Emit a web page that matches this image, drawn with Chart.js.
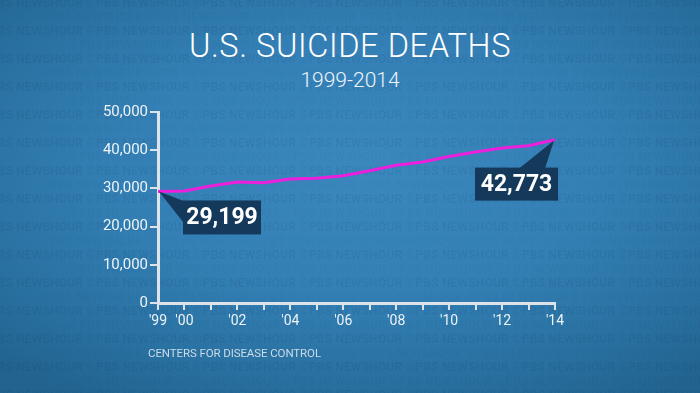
<!DOCTYPE html>
<html>
<head>
<meta charset="utf-8">
<script src="https://cdn.jsdelivr.net/npm/chart.js@4"></script>
<style>
  html, body { margin: 0; padding: 0; }
  #stage {
    position: relative; width: 700px; height: 393px; overflow: hidden;
    background: radial-gradient(ellipse 75% 70% at 52% 42%, #3b88be 0%, #3480b6 45%, #28709f 80%, #22638f 100%);
    font-family: Roboto, "DejaVu Sans", sans-serif;
  }
  #wm { position: absolute; left: -20px; top: -4px; width: 760px; height: 400px;
        font: bold 12px Roboto, sans-serif; letter-spacing: 0.2px; color: rgba(10, 40, 80, 0.09);
        white-space: nowrap; line-height: 14px; pointer-events: none; }
  #wm div:nth-child(even) { color: rgba(10, 40, 80, 0.05); }
  #title { position: absolute; left: 0; width: 700px; top: 27px; text-align: center;
           color: #fff; font-size: 32.5px; font-weight: 300; letter-spacing: 0.6px; }
  #sub { position: absolute; left: 0; width: 700px; top: 68px; text-align: center;
         color: #eef4f9; font-size: 21px; font-weight: 300; }
  #source { position: absolute; left: 148px; top: 346px; color: #cbdbe8;
            font-size: 11.5px; letter-spacing: -0.1px; }
  canvas { position: absolute; left: 0; top: 0; }
</style>
</head>
<body>
<div id="stage">
  <div id="wm"></div>
  <div id="title">U.S. SUICIDE DEATHS</div>
  <div id="sub">1999-2014</div>
  <canvas id="chart" width="700" height="393"></canvas>
  <div id="source">CENTERS FOR DISEASE CONTROL</div>
</div>
<script>
// data (CDC)
const years = [1999, 2000, 2001, 2002, 2003, 2004, 2005, 2006, 2007, 2008, 2009, 2010, 2011, 2012, 2013, 2014]
const deaths = [29199, 29350, 30622, 31655, 31484, 32439, 32637, 33300, 34598, 36035, 36909, 38364, 39518, 40600, 41149, 42773]
const xTickLabels = { 1999: "'99", 2000: "'00", 2002: "'02", 2004: "'04", 2006: "'06", 2008: "'08", 2010: "'10", 2012: "'12", 2014: "'14" }
const yTicks = [0, 10000, 20000, 30000, 40000, 50000]

// faint watermark rows
const wm = document.getElementById("wm")
for (let i = 0; i < 29; i++) {
  const row = document.createElement("div")
  row.style.paddingLeft = (i % 2 ? 60 : 0) + (i % 4 === 3 ? 30 : 0) + "px"
  row.textContent = "©PBS NEWSHOUR  ".repeat(8)
  wm.appendChild(row)
}

const axisColor = "#dde3e9"
const fmt = v => v.toLocaleString("en-US")

const callouts = {
  id: "callouts",
  afterDatasetsDraw(chart) {
    const { ctx, scales: { x, y } } = chart
    const first = { px: x.getPixelForValue(years[0]), py: y.getPixelForValue(deaths[0]) }
    const last = { px: x.getPixelForValue(years[years.length - 1]), py: y.getPixelForValue(deaths[deaths.length - 1]) }
    ctx.save()
    ctx.fillStyle = "#15395a"
    // first value box
    let bx = first.px + 25, by = first.py + 9
    ctx.beginPath()
    ctx.moveTo(first.px + 1, first.py)
    ctx.lineTo(bx + 2, by + 1)
    ctx.lineTo(bx + 2, by + 24)
    ctx.closePath(); ctx.fill()
    ctx.fillRect(bx, by, 78, 34)
    ctx.fillStyle = "#fff"
    ctx.font = "bold 23px Roboto, sans-serif"
    ctx.textAlign = "center"; ctx.textBaseline = "middle"
    ctx.fillText(fmt(deaths[0]), bx + 39, by + 18)
    // last value box
    ctx.fillStyle = "#15395a"
    bx = last.px - 80; by = last.py + 28
    ctx.beginPath()
    ctx.moveTo(last.px - 1, last.py + 1)
    ctx.lineTo(bx + 44, by + 1)
    ctx.lineTo(bx + 70, by + 1)
    ctx.closePath(); ctx.fill()
    ctx.fillRect(bx, by, 83, 33)
    ctx.fillStyle = "#fff"
    ctx.fillText(fmt(deaths[deaths.length - 1]), bx + 41.5, by + 17.5)
    ctx.restore()
  }
}

new Chart(document.getElementById("chart"), {
  type: "line",
  data: {
    labels: years,
    datasets: [{
      data: years.map((yr, i) => ({ x: yr, y: deaths[i] })),
      borderColor: "#ec1fdc", borderWidth: 3, pointRadius: 0, tension: 0
    }]
  },
  options: {
    responsive: false, animation: false,
    layout: { padding: { left: 100, top: 112, right: 145, bottom: 60 } },
    plugins: { legend: { display: false }, tooltip: { enabled: false } },
    scales: {
      x: {
        type: "linear", min: 1999, max: 2014,
        afterFit: s => { s.height = 30 },
        afterBuildTicks: s => { s.ticks = years.map(v => ({ value: v })) },
        border: { color: axisColor, width: 3 },
        grid: { drawOnChartArea: false, drawTicks: true, tickLength: 7, color: axisColor, lineWidth: 2 },
        ticks: {
          color: "#eef3f8", font: { family: "Roboto", size: 14 }, padding: 3, maxRotation: 0, autoSkip: false,
          callback: v => xTickLabels[v] || ""
        }
      },
      y: {
        min: 0, max: 50000,
        afterFit: s => { s.width = 58 },
        afterBuildTicks: s => { s.ticks = yTicks.map(v => ({ value: v })) },
        border: { color: axisColor, width: 3 },
        grid: { drawOnChartArea: false, drawTicks: true, tickLength: 8, color: axisColor, lineWidth: 2 },
        ticks: { color: "#eef3f8", font: { family: "Roboto", size: 15 }, padding: 2, callback: v => fmt(v) }
      }
    }
  },
  plugins: [callouts]
})
</script>
</body>
</html>
